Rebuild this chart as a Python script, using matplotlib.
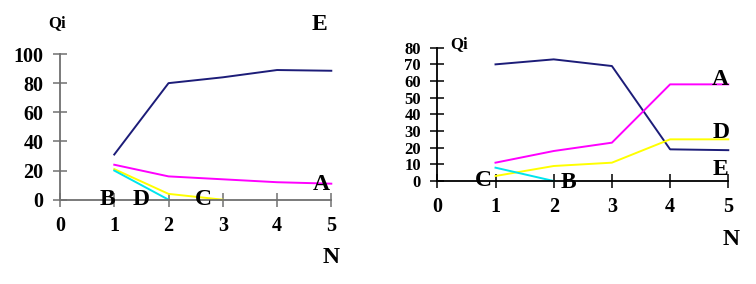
import matplotlib
matplotlib.use('Agg')
import matplotlib.pyplot as plt

plt.rcParams['font.family'] = ['Liberation Serif', 'DejaVu Serif']
plt.rcParams['font.weight'] = 'bold'

# left panel
n_left = [1, 2, 3, 4, 5]
e_left = [31, 80, 84, 89, 88.5]
a_left = [24, 16, 14, 12, 11]
c_left_n = [1, 2, 3]
c_left = [21, 4, 0]
b_left_n = [1, 2]
b_left = [20, 0]
yticks_left = [0, 20, 40, 60, 80, 100]

# right panel
n_right = [1, 2, 3, 4, 5]
e_right = [70, 73, 69, 19, 18.5]
a_right = [11, 18, 23, 58, 58]
d_right = [3, 9, 11, 25, 25]
b_right_n = [1, 2]
b_right = [8, 0]
yticks_right = [0, 10, 20, 30, 40, 50, 60, 70, 80]

xticks = [0, 1, 2, 3, 4, 5]

navy = '#1c1c78'
mag = '#ff00ff'
yel = '#ffff00'
cya = '#00e5ee'

W, H = 756, 284
fig = plt.figure(figsize=(W / 100, H / 100), dpi=100)


def make_ax(x0, x5, y0, ytop, axcol):
    ax = fig.add_axes([x0 / W, 1 - y0 / H, (x5 - x0) / W, (y0 - ytop) / H])
    for s in ['top', 'right']:
        ax.spines[s].set_visible(False)
    for s in ['left', 'bottom']:
        ax.spines[s].set_color(axcol)
        ax.spines[s].set_linewidth(1.3)
    ax.patch.set_visible(False)
    ax.tick_params(direction='inout', length=9.5, width=1.1, color=axcol,
                   labelsize=14.5, pad=7)
    return ax


ax1 = make_ax(60, 331.3, 199.7, 54, '#707070')
ax1.set_xlim(0, 5)
ax1.set_ylim(0, 100)
ax1.set_xticks(xticks)
ax1.set_yticks(yticks_left)
ax1.plot(n_left, e_left, color=navy, lw=1.4, clip_on=False)
ax1.plot(n_left, a_left, color=mag, lw=1.4, clip_on=False)
ax1.plot(c_left_n, c_left, color=yel, lw=1.4, clip_on=False)
ax1.plot(b_left_n, b_left, color=cya, lw=1.4, clip_on=False)
tk = dict(fontsize=17, fontweight='bold', ha='center', va='center', clip_on=False)
ax1.text(0.88, 0, 'B', **tk)
ax1.text(1.5, 0, 'D', **tk)
ax1.text(2.65, 0, 'C', **tk)
ax1.text(4.82, 10.5, 'A', **tk)
ax1.text(4.78, 120, 'E', **tk)
ax1.text(-0.05, 121, 'Qi', fontsize=12, fontweight='bold', ha='center', va='center', clip_on=False)
ax1.text(5.0, -40, 'N', **tk)

ax2 = make_ax(437.3, 728.3, 181, 47.7, '#000000')
ax2.set_xlim(0, 5)
ax2.set_ylim(0, 80)
ax2.set_xticks(xticks)
ax2.set_yticks(yticks_right)
ax2.tick_params(axis='y', pad=7, labelsize=12)
ax2.plot(n_right, e_right, color=navy, lw=1.4, clip_on=False)
ax2.plot(n_right, a_right, color=mag, lw=1.4, clip_on=False)
ax2.plot(n_right, d_right, color=yel, lw=1.4, clip_on=False)
ax2.plot(b_right_n, b_right, color=cya, lw=1.4, clip_on=False)
ax2.text(0.8, 0, 'C', **tk)
ax2.text(2.25, -1.2, 'B', **tk)
ax2.text(4.87, 61, 'A', **tk)
ax2.text(4.87, 29, 'D', **tk)
ax2.text(4.87, 7, 'E', **tk)
ax2.text(0.38, 82, 'Qi', fontsize=12, fontweight='bold', ha='center', va='center', clip_on=False)
ax2.text(5.05, -35, 'N', **tk)

fig.savefig('out.png', dpi=100)
